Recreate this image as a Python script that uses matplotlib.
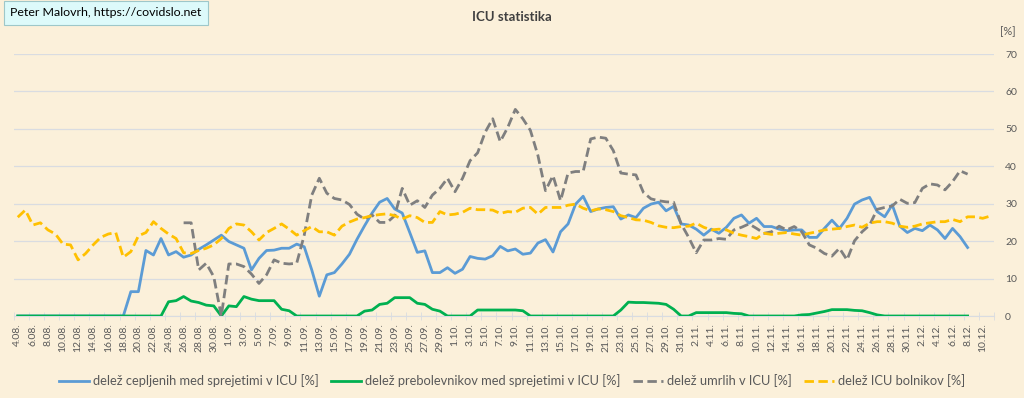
import matplotlib.pyplot as plt
import numpy as np
import pandas as pd

nan = np.nan

# 4.08. .. 11.12. (daily)
dates = pd.date_range("2021-08-04", periods=130)
date_labels = [f"{d.day}.{d.month:02d}." for d in dates]

cepljeni = [0] * 15 + [
    6.5, 6.5, 17.5, 16.3, 20.7, 16.3, 17.2, 15.7, 16.3, 17.8,
    19.0, 20.3, 21.6, 19.9, 19.0, 18.1, 12.3, 15.4, 17.5, 17.6,
    18.1, 18.1, 19.2, 18.5, 12.3, 5.3, 11.0, 11.6, 13.9, 16.5,
    20.5, 24.1, 27.5, 30.4, 31.4, 28.6, 27.5, 22.3, 17.0, 17.4,
    11.6, 11.6, 12.9, 11.4, 12.5, 15.9, 15.4, 15.2, 16.1, 18.6,
    17.4, 17.9, 16.5, 16.8, 19.5, 20.4, 17.1, 22.5, 24.6, 29.9,
    32.0, 27.9, 28.6, 29.0, 29.2, 25.9, 27.0, 26.3, 28.8, 29.9,
    30.4, 28.1, 29.3, 24.6, 24.3, 23.2, 21.6, 23.2, 22.1, 23.7,
    26.1, 27.0, 24.8, 26.1, 23.9, 23.9, 23.2, 22.8, 23.0, 23.0,
    21.0, 21.0, 23.4, 25.6, 23.4, 26.1, 29.9, 31.0, 31.7, 27.9,
    26.5, 29.7, 24.0, 22.3, 23.4, 22.8, 24.3, 23.0, 20.7, 23.4,
    21.2, 18.3, nan, nan, nan]

prebolevniki = [0] * 20 + [
    3.8, 4.1, 5.2, 4.0, 3.6, 2.9, 2.7, 0, 2.7, 2.5,
    5.2, 4.5, 4.1, 4.1, 4.1, 1.8, 1.4, 0, 0, 0,
    0, 0, 0, 0, 0, 0, 1.3, 1.6, 3.1, 3.4,
    4.9, 4.9, 4.9, 3.4, 3.1, 1.8, 1.3, 0, 0, 0,
    0, 1.6, 1.6, 1.6, 1.6, 1.6, 1.6, 1.4, 0, 0,
    0, 0, 0, 0, 0, 0, 0, 0, 0, 0,
    1.6, 3.7, 3.6, 3.6, 3.5, 3.4, 3.1, 1.8, 0, 0,
    0.9, 0.9, 0.9, 0.9, 0.9, 0.7, 0.6, 0, 0, 0,
    0, 0, 0, 0, 0.3, 0.4, 0.8, 1.2, 1.7, 1.7,
    1.7, 1.5, 1.4, 0.9, 0.3, 0, 0, 0, 0, 0,
    0, 0, 0, 0, 0, 0, 0, nan, nan, nan]

umrli = [nan] * 22 + [
    24.9, 24.9, 12.3, 14.1, 10.5, 0, 13.9, 13.9,
    13.2, 11.2, 8.7, 11.0, 15.0, 14.1, 13.9, 14.1, 21.6, 32.3,
    36.8, 32.8, 31.4, 31.0, 29.8, 27.2, 25.9, 27.0, 25.0, 25.0,
    26.8, 34.1, 29.6, 30.8, 29.0, 32.3, 34.1, 36.8, 33.2, 36.8,
    41.5, 43.6, 49.1, 52.7, 46.6, 50.4, 55.2, 52.7, 49.6, 42.9,
    33.5, 37.5, 30.8, 38.2, 38.6, 38.6, 47.3, 47.8, 47.5, 44.2,
    38.2, 37.9, 37.7, 33.0, 31.3, 30.8, 30.5, 30.4, 24.6, 21.0,
    16.9, 20.3, 20.3, 20.7, 20.5, 23.0, 23.7, 24.6, 23.4, 22.1,
    22.5, 24.0, 23.0, 23.9, 22.5, 19.0, 18.1, 16.7, 16.0, 18.1,
    15.0, 20.1, 22.5, 24.3, 28.5, 29.0, 29.4, 31.2, 30.1, 30.3,
    34.1, 35.3, 35.0, 33.7, 35.9, 38.8, 37.9, nan, nan, nan]

icu_bolniki = [
    26.4, 28.3, 24.3, 24.9, 23.0, 21.9, 19.2, 19.0, 15.0, 16.7,
    19.0, 21.0, 21.9, 22.3, 15.7, 17.2, 21.4, 22.3, 25.2, 23.4,
    21.9, 20.7, 16.9, 16.7, 17.5, 18.1, 19.0, 20.7, 23.4, 24.6,
    24.3, 22.5, 20.3, 22.3, 23.4, 24.6, 23.2, 21.6, 22.8, 23.9,
    22.5, 22.5, 21.6, 24.0, 25.1, 25.9, 26.3, 26.8, 27.1, 27.3,
    26.8, 25.9, 26.8, 26.3, 25.0, 25.0, 27.9, 27.0, 27.2, 27.7,
    28.8, 28.4, 28.4, 28.3, 27.4, 27.9, 27.7, 28.8, 29.0, 27.2,
    29.0, 29.0, 29.0, 29.6, 29.9, 28.8, 28.1, 28.6, 28.4, 27.9,
    26.8, 26.3, 25.7, 25.6, 25.0, 24.1, 23.7, 23.6, 23.9, 24.0,
    24.8, 23.7, 23.0, 23.2, 23.0, 22.1, 21.6, 21.2, 20.7, 22.1,
    21.8, 22.1, 22.3, 21.9, 21.6, 22.1, 22.5, 23.0, 23.2, 23.4,
    23.9, 24.3, 23.7, 24.8, 25.2, 25.2, 24.8, 24.0, 23.7, 24.0,
    24.6, 24.9, 25.2, 25.2, 25.8, 25.2, 26.5, 26.5, 26.1, 26.7]

series_names = ["delež cepljenih med sprejetimi v ICU [%]",
                "delež prebolevnikov med sprejetimi v ICU [%]",
                "delež umrlih v ICU [%]",
                "delež ICU bolnikov [%]"]

bg = "#FBF0DA"
txt = "#595959"
font = ["Lato", "DejaVu Sans"]

fig = plt.figure(figsize=(10.24, 3.98), dpi=100, facecolor=bg)
ax = fig.add_axes([14 / 1024, 1 - 316 / 398, 980 / 1024, 262 / 398])
ax.set_facecolor(bg)

x = np.arange(len(dates))
lw = 2.0
ax.plot(x, cepljeni, color="#5B9BD5", lw=lw, label=series_names[0], zorder=3)
ax.plot(x, prebolevniki, color="#00B050", lw=lw, label=series_names[1], zorder=4)
ax.plot(x, umrli, color="#7F7F7F", lw=lw, dashes=(3.4, 1.6), label=series_names[2], zorder=5)
ax.plot(x, icu_bolniki, color="#FFC000", lw=lw, dashes=(3.4, 1.6), label=series_names[3], zorder=6)

ax.set_xlim(-0.5, len(dates) - 0.5)
ax.set_ylim(0, 70)

ax.yaxis.tick_right()
ax.set_yticks(range(0, 71, 10))
ax.tick_params(axis="y", length=0, pad=8, labelsize=7.5, labelcolor=txt)
ax.grid(axis="y", color="#D9DCE1", lw=0.9)
ax.set_axisbelow(True)

ax.set_xticks(x[::2])
ax.set_xticklabels(date_labels[::2], rotation=90, fontsize=7.5, color=txt)
ax.set_xticks(np.arange(-0.5, len(dates), 2), minor=True)
ax.tick_params(axis="x", which="major", length=0, pad=5)
ax.tick_params(axis="x", which="minor", length=6, direction="inout", color="#D9DCE1")

for s in ["top", "left", "right"]:
    ax.spines[s].set_visible(False)
ax.spines["bottom"].set_color("#D9DCE1")

for lab in ax.get_xticklabels() + ax.get_yticklabels():
    lab.set_family(font)

fig.text(1008 / 1024, 1 - 32 / 398, "[%]", ha="center", va="center",
         fontsize=8, color=txt, family=font)
fig.text(0.5, 1 - 17 / 398, "ICU statistika", ha="center", va="center",
         fontsize=9.5, fontweight="bold", color="#404040", family=font)
fig.text(10 / 1024, 1 - 13 / 398, "Peter Malovrh, https://covidslo.net",
         ha="left", va="center", fontsize=8.9, color="#000000", family=font,
         bbox=dict(boxstyle="square,pad=0.5", fc="#DDFAFA", ec="#9EC7C9", lw=0.8))

fig.legend(loc="center", bbox_to_anchor=(0.5, 1 - 381 / 398), ncol=4,
           frameon=False, handlelength=2.3, columnspacing=1.0,
           handletextpad=0.3, prop={"family": font, "size": 9.3},
           labelcolor=txt)

fig.savefig("out.png", dpi=100, facecolor=bg)
